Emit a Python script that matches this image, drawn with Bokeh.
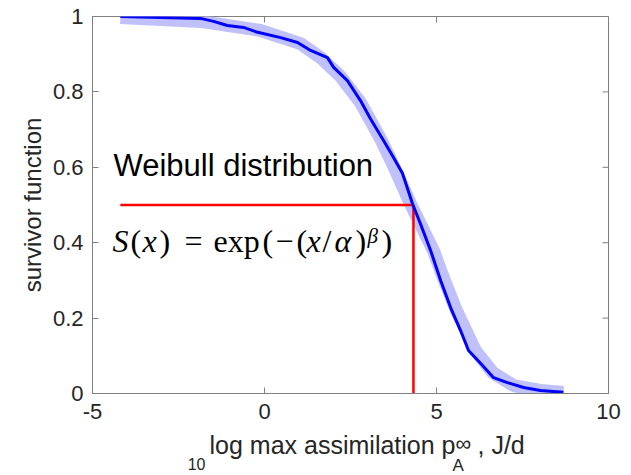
import math
from bokeh.plotting import figure
from bokeh.models import Range1d, LinearAxis, FixedTicker, Label
from bokeh.layouts import column
from bokeh.embed import file_html
from bokeh.resources import INLINE

# ---------------- data ----------------
# empirical survivor function (blue line)
ecdf_x = [-4.19, -1.86, -1.48, -1.08, -0.61, -0.20, 0.47, 0.96, 1.34, 1.83, 2.01,
          2.41, 2.79, 3.08, 3.46, 3.75, 4.01, 4.30, 4.53, 4.83, 5.12, 5.41, 5.70,
          5.93, 6.28, 6.66, 7.06, 7.53, 8.02, 8.69]
ecdf_s = [1.000, 0.995, 0.987, 0.976, 0.971, 0.958, 0.944, 0.931, 0.910, 0.891, 0.865,
          0.830, 0.777, 0.729, 0.671, 0.626, 0.584, 0.504, 0.451, 0.379, 0.300, 0.228,
          0.167, 0.114, 0.080, 0.042, 0.029, 0.016, 0.008, 0.003]
# fitted Weibull survivor function (light band)
fit_x = [-4.19, -1.86, -0.12, 1.05, 1.63, 2.21, 2.79, 3.40, 3.81, 4.24, 4.91, 5.23,
         5.58, 6.13, 6.63, 7.24, 8.02, 8.69]
fit_s = [0.997, 0.987, 0.963, 0.928, 0.891, 0.841, 0.772, 0.671, 0.592, 0.504, 0.379,
         0.300, 0.220, 0.114, 0.056, 0.021, 0.008, 0.003]
# median marker (red lines)
median_x = 4.33
median_s = 0.5
marker_start_x = -4.19

x_ticks = [-5, 0, 5, 10]
x_tick_labels = ["-5", "0", "5", "10"]
y_ticks = [0, 0.2, 0.4, 0.6, 0.8, 1]
y_tick_labels = ["0", "0.2", "0.4", "0.6", "0.8", "1"]

# ---------------- layout ----------------
W = 631
H1, H2 = 428, 47                   # main figure + strip holding the x-axis title
FL, FR, FT, FB = 92, 608, 16, 393   # frame edges in px
X0, X1, Y0, Y1 = -5, 10, 0, 1
BASE_K = 0.38                       # label anchor correction (fraction of font size)


def dx(px):
    return X0 + (px - FL) * (X1 - X0) / (FR - FL)


def dy(py):
    return Y1 - (py - FT) * (Y1 - Y0) / (FB - FT)


def dy2(py):   # strip below the main figure
    return 1 - (py - H1) / H2


GRAY = "#808080"
TXT = "#262626"
SANS = "Liberation Sans"
SERIF = "Liberation Serif"

p = figure(width=W, height=H1, output_backend="svg", toolbar_location=None,
           x_range=Range1d(X0, X1), y_range=Range1d(Y0, Y1),
           x_axis_location=None, y_axis_location=None,
           min_border_left=FL, min_border_right=W - FR,
           min_border_top=FT, min_border_bottom=H1 - FB)
p.grid.visible = False
p.outline_line_color = GRAY
p.outline_line_width = 1
p.background_fill_color = "white"
p.border_fill_color = "white"


def make_axis(ticks, labels, label_text=None):
    ax = LinearAxis(ticker=FixedTicker(ticks=ticks))
    ax.axis_line_color = GRAY
    ax.major_tick_line_color = GRAY
    ax.major_tick_in = 6
    ax.major_tick_out = 0
    ax.minor_tick_line_color = None
    ax.major_label_overrides = dict(zip(ticks, labels))
    ax.major_label_text_font = SANS
    ax.major_label_text_font_size = "22px"
    ax.major_label_text_color = TXT
    if label_text:
        ax.axis_label = label_text
        ax.axis_label_text_font = SANS
        ax.axis_label_text_font_size = "24px"
        ax.axis_label_text_font_style = "normal"
        ax.axis_label_text_color = TXT
        ax.axis_label_standoff = 4
    return ax


xb = make_axis(x_ticks, x_tick_labels)
xb.major_label_standoff = 10
p.add_layout(xb, "below")
yl = make_axis(y_ticks, y_tick_labels, "survivor function")
yl.major_label_standoff = 9
p.add_layout(yl, "left")

# inward ticks on the top and right edges of the box
p.ray(x=x_ticks, y=[Y1] * len(x_ticks), length=6, angle=-math.pi / 2,
      length_units="screen", line_color=GRAY, line_width=1)
p.ray(x=[X1] * len(y_ticks), y=y_ticks, length=6, angle=math.pi,
      length_units="screen", line_color=GRAY, line_width=1)

# ---------------- marks ----------------
p.line(fit_x, fit_s, line_width=13, color="#c0c0fa", line_cap="butt", line_join="round")
p.line([marker_start_x, median_x], [median_s, median_s], line_width=2.5, color="#ff0000")
p.line([median_x, median_x], [Y0, median_s], line_width=2.5, color="#ff0000")
p.line(ecdf_x, ecdf_s, line_width=3, color="#0000ff", line_join="round")


def lab(fig, conv, px, base_py, text, font=SANS, size=25, style="normal", align="left",
        color="black"):
    fig.add_layout(Label(x=dx(px), y=conv(base_py - BASE_K * size), x_units="data",
                         y_units="data", text=text, text_font=font,
                         text_font_size=f"{size}px", text_font_style=style,
                         text_align=align, text_baseline="alphabetic", text_color=color))


# annotation text
lab(p, dy, 113, 177, "Weibull distribution", size=31)

# formula S(x) = exp(-(x/alpha)^beta)
FORM_BASE = 253
pieces = [
    (112, "S", "italic"), (130, "(", "normal"), (142, "x", "italic"), (159, ")", "normal"),
    (184, "=", "normal"), (213, "exp", "normal"), (262, "(", "normal"), (275, "\u2212", "normal"),
    (296, "(", "normal"), (306, "x", "italic"), (322, "/", "normal"), (334, "\u03b1", "italic"),
    (355, ")", "normal"), (381, ")", "normal"),
]
for px, t, st in pieces:
    lab(p, dy, px, FORM_BASE, t, font=SERIF, size=32, style=st)
lab(p, dy, 367, 243, "\u03b2", font=SERIF, size=21, style="italic")

# ---------------- x-axis title strip ----------------
p2 = figure(width=W, height=H2, output_backend="svg", toolbar_location=None,
            x_range=p.x_range, y_range=Range1d(0, 1),
            x_axis_location=None, y_axis_location=None,
            min_border_left=FL, min_border_right=W - FR,
            min_border_top=0, min_border_bottom=0)
p2.grid.visible = False
p2.outline_line_color = None
p2.background_fill_color = "white"
p2.border_fill_color = "white"

lab(p2, dy2, 205, 470, "10", size=16, align="right", color=TXT)
lab(p2, dy2, 455, 454, "log max assimilation p", size=25, align="right", color=TXT)
lab(p2, dy2, 452, 471, "A", size=17, color=TXT)
lab(p2, dy2, 455, 451, "\u221e", size=22, color=TXT)
lab(p2, dy2, 477, 454, ", J/d", size=25, color=TXT)

layout = column(p, p2, spacing=0)
open("out.html", "w").write(file_html(layout, INLINE))
